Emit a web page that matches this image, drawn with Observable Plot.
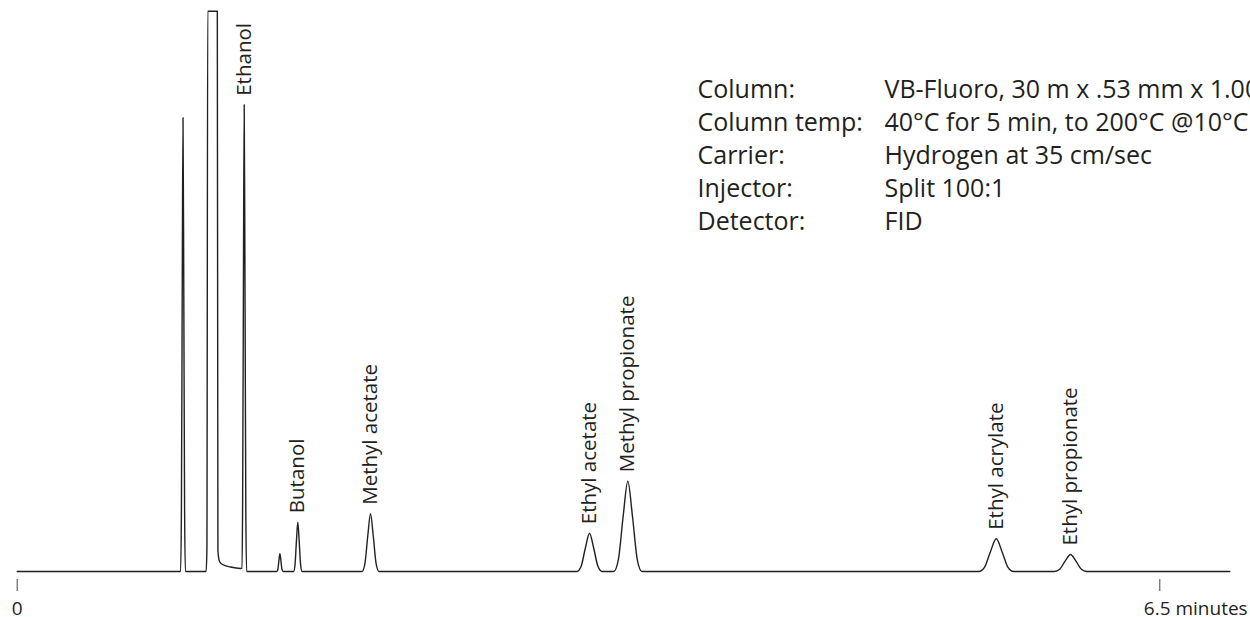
<!DOCTYPE html>
<html>
<head>
<meta charset="utf-8">
<script src="https://cdn.jsdelivr.net/npm/d3@7"></script>
<script src="https://cdn.jsdelivr.net/npm/@observablehq/plot@0.6"></script>
<style>
  html, body { margin: 0; padding: 0; background: #fff; }
  #chart svg { display: block; }
</style>
</head>
<body>
<div id="chart"></div>
<script>
// Detector trace: time (minutes) and signal (% of full scale)
const traceTime = [
  0,
  0.9296, 0.9341, 0.9387, 0.9432, 0.9478, 0.9523, 0.9569,
  1.0747, 1.0792, 1.0838, 1.1384, 1.1418, 1.1509, 1.1680, 1.2135, 1.2715,
  1.2778, 1.2823, 1.2869, 1.2914, 1.2960, 1.3005, 1.3051,
  1.4774, 1.4831, 1.4888, 1.4945, 1.5002, 1.5059, 1.5116,
  1.5724, 1.5804, 1.5883, 1.5963, 1.6043, 1.6123, 1.6202,
  1.9621, 1.9781, 1.9940, 2.0099, 2.0258, 2.0418, 2.0577,
  3.1842, 3.2080, 3.2319, 3.2558, 3.2797, 3.3036, 3.3275,
  3.3934, 3.4202, 3.4469, 3.4737, 3.5004, 3.5272, 3.5539,
  5.4705, 5.5035, 5.5365, 5.5695, 5.6025, 5.6355, 5.6685,
  5.9000, 5.9307, 5.9614, 5.9922, 6.0229, 6.0536, 6.0844,
  6.8985
];
const traceSignal = [
  0,
  0, 10.9, 49.2, 81.0, 49.2, 10.9, 0,
  0, 4, 100, 100, 3.75, 1.78, 1.25, 0.80, 0.54,
  0.6, 11.7, 50.6, 83.3, 50.6, 11.2, 0,
  0, 0.43, 1.92, 3.16, 1.92, 0.43, 0,
  0, 1.19, 5.34, 8.8, 5.34, 1.19, 0,
  0, 1.39, 6.25, 10.3, 6.25, 1.39, 0,
  0, 0.92, 4.15, 6.84, 4.15, 0.92, 0,
  0, 2.17, 9.77, 16.1, 9.77, 2.17, 0,
  0, 0.79, 3.54, 5.84, 3.54, 0.79, 0,
  0, 0.41, 1.84, 3.03, 1.84, 0.41, 0,
  0
];

// Labelled peaks
const peakNames = ["Ethanol", "Butanol", "Methyl acetate", "Ethyl acetate", "Methyl propionate", "Ethyl acrylate", "Ethyl propionate"];
const peakTimes = [1.2914, 1.5963, 2.0099, 3.2558, 3.4737, 5.5695, 5.9922];
const peakHeights = [83.3, 8.8, 10.3, 6.84, 16.1, 5.84, 3.03];

// Conditions block (as visible in the picture)
const infoLabels = ["Column:", "Column temp:", "Carrier:", "Injector:", "Detector:"];
const infoValues = ["VB-Fluoro, 30 m x .53 mm x 1.00", "40°C for 5 min, to 200°C @10°C", "Hydrogen at 35 cm/sec", "Split 100:1", "FID"];

// Axis ticks
const tickValues = [0, 6.5];
const tickLabels = ["0", "6.5 minutes"];

const trace = traceTime.map((t, i) => ({t, s: traceSignal[i]}));
const peaks = peakNames.map((name, i) => ({name, t: peakTimes[i], s: peakHeights[i]}));

const ink = "#231f20";
const font = "'Open Sans', sans-serif";

const chart = Plot.plot({
  width: 1250,
  height: 617,
  marginTop: 0,
  marginRight: 0,
  marginLeft: 0,
  marginBottom: 38,
  style: {fontFamily: font, background: "#fff"},
  x: {domain: [0, 6.5], range: [16.7, 1159.3], label: null},
  y: {domain: [0, 100], range: [571, 10.7], axis: null, label: null},
  marks: [
    Plot.line(trace, {x: "t", y: "s", curve: "monotone-x", stroke: ink, strokeWidth: 1.4}),
    Plot.text(peaks, {
      x: "t", y: "s", text: "name", rotate: -90, textAnchor: "start", lineAnchor: "middle",
      dy: -9, fontSize: 20.5, fill: ink, fontFamily: font
    }),
    Plot.axisX({
      ticks: tickValues, tickSize: 12, tickPadding: 10, label: null,
      tickFormat: d => (d === tickValues[0] ? tickLabels[0] : ""),
      stroke: "#444", strokeWidth: 1, fontSize: 19, fill: ink, fontFamily: font
    }),
    Plot.text([tickValues[1]], {
      x: d => d, frameAnchor: "bottom", text: () => tickLabels[1], textAnchor: "start",
      lineAnchor: "top", dx: -16, dy: 22, fontSize: 19, fill: ink, fontFamily: font
    }),
    Plot.text([infoLabels.join("\n")], {
      frameAnchor: "top-left", text: d => d, textAnchor: "start", lineAnchor: "top",
      dx: 697, dy: 74.5, lineHeight: 1.32, fontSize: 25, fill: ink, fontFamily: font
    }),
    Plot.text([infoValues.join("\n")], {
      frameAnchor: "top-left", text: d => d, textAnchor: "start", lineAnchor: "top",
      dx: 884, dy: 74.5, lineHeight: 1.32, fontSize: 25, fill: ink, fontFamily: font
    })
  ]
});
document.getElementById("chart").appendChild(chart);
</script>
</body>
</html>
